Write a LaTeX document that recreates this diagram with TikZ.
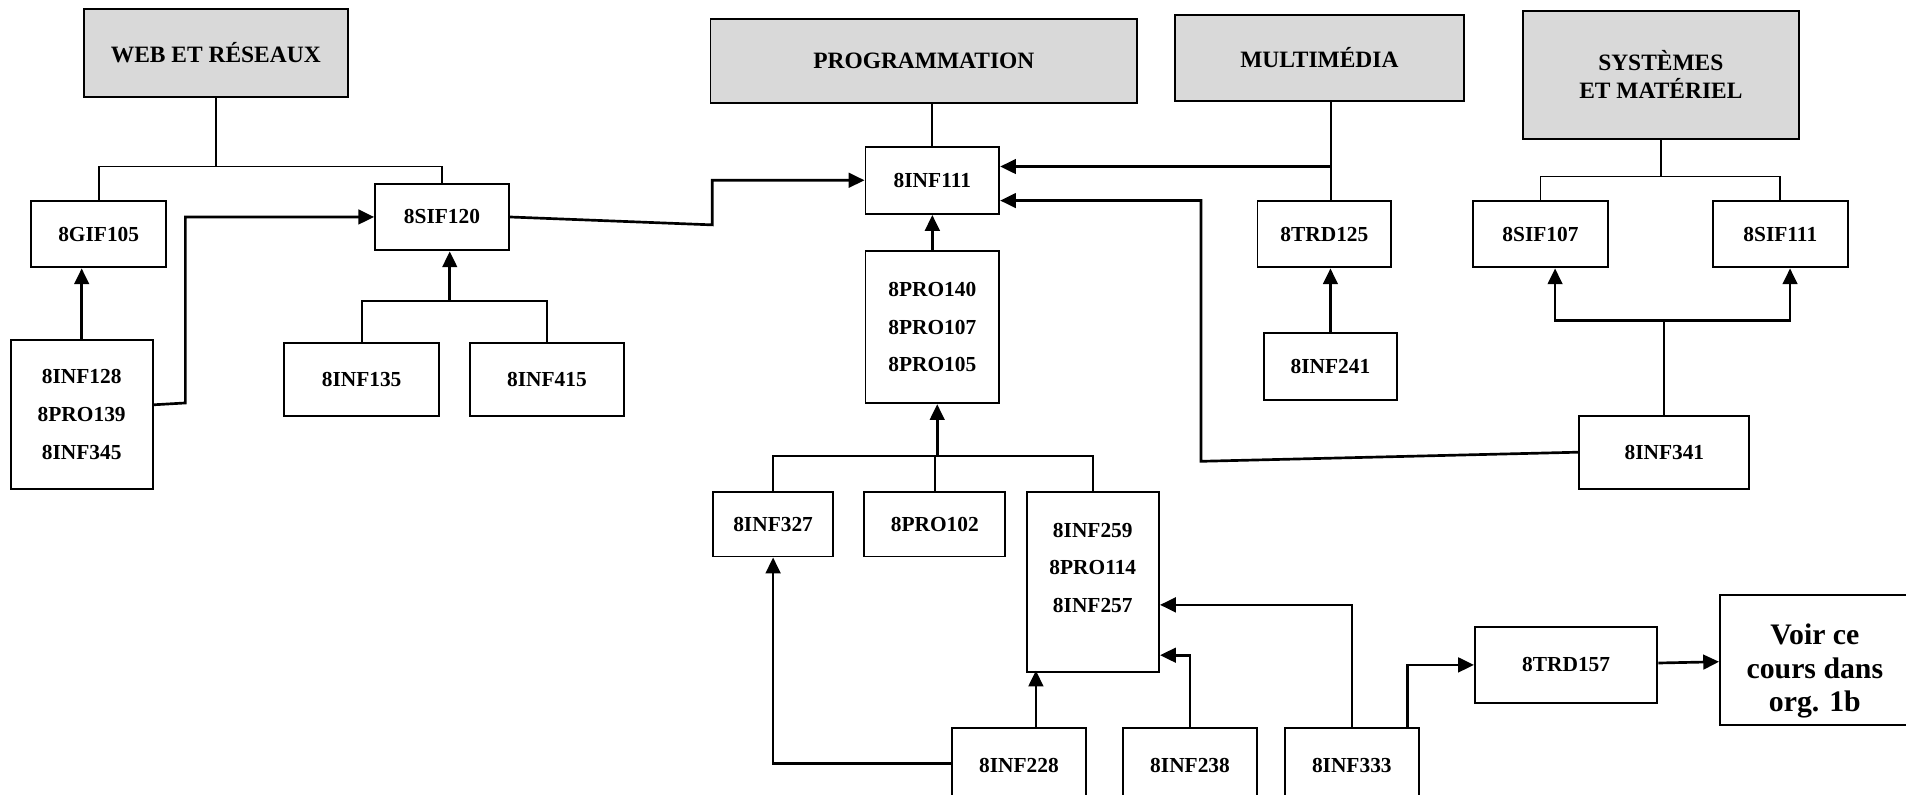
\documentclass[tikz,border=0pt]{standalone}
\usepackage{fontspec}
\setmainfont{Liberation Serif}
\usetikzlibrary{arrows.meta}
\definecolor{headgray}{HTML}{D9D9D9}

\begin{document}
\begin{tikzpicture}[x=1pt, y=-1pt,
    course/.style ={draw, line width=1.6pt, align=center, inner sep=0pt,
                    minimum width=110pt, minimum height=55pt,
                    font=\bfseries\fontsize{17.6}{31}\selectfont},
    area/.style ={course, fill=headgray, font=\bfseries\fontsize{19.3}{23}\selectfont},
    link/.style ={line width=1.5pt},
    prereq/.style ={line width=2.2pt, -{Triangle[length=13pt,width=12pt]}}]
   \useasboundingbox (0,0) rectangle (1568,653.2);
   % domaines
   \node[area, minimum width=217pt, minimum height=72pt] (web) at (177.5,43.5) {WEB ET RÉSEAUX};
   \node[area, minimum width=351pt, minimum height=69.4pt] (prog) at (760,50.3) {PROGRAMMATION};
   \node[area, minimum width=237.3pt, minimum height=70.7pt] (multi) at (1085.4,47.7) {MULTIMÉDIA};
   \node[area, minimum width=227pt, minimum height=105pt] (sys) at (1366.3,61.6) {SYSTÈMES\\ET MATÉRIEL};
   % cours
   \node[course, minimum width=111pt] (gif105) at (81.2,192.5) {8GIF105};
   \node[course] (sif120) at (363.6,178.5) {8SIF120};
   \node[course, minimum width=117pt, minimum height=122pt] (inf128) at (67.2,341) {8INF128\\8PRO139\\8INF345};
   \node[course, minimum width=127pt, minimum height=60pt] (inf135) at (297.5,312) {8INF135};
   \node[course, minimum width=126pt, minimum height=60pt] (inf415) at (450,312) {8INF415};
   \node[course, minimum height=55.5pt] (inf111) at (767,148.3) {8INF111};
   \node[course, minimum height=125pt] (pro140) at (767,269.2) {8PRO140\\8PRO107\\8PRO105};
   \node[course] (trd125) at (1089.5,192.5) {8TRD125};
   \node[course] (inf241) at (1094.5,301.5) {8INF241};
   \node[course, minimum width=111pt] (sif107) at (1267.3,192.5) {8SIF107};
   \node[course, minimum width=110.6pt] (sif111) at (1464.6,192.5) {8SIF111};
   \node[course, minimum width=140pt, minimum height=60pt] (inf341) at (1369.2,372) {8INF341};
   \node[course, minimum width=99pt, minimum height=53pt] (inf327) at (636,431.3) {8INF327};
   \node[course, minimum width=115.7pt, minimum height=53pt] (pro102) at (769,431.3) {8PRO102};
   \node[course, minimum width=109pt, minimum height=148pt] (inf259) at (899,478.5) {};
   \node[align=center, inner sep=0pt, font=\bfseries\fontsize{17.6}{31}\selectfont] (inf259txt) at (899,467) {8INF259\\8PRO114\\8INF257};
   \node[course, minimum height=62pt] (inf228) at (838.2,630) {8INF228};
   \node[course, minimum height=62pt] (inf238) at (979,630) {8INF238};
   \node[course, minimum height=62pt] (inf333) at (1112.1,630) {8INF333};
   \node[course, minimum width=150pt, minimum height=63pt] (trd157) at (1288.4,547) {8TRD157};
   \node[course, minimum width=156pt, minimum height=107pt] (voir) at (1493,542.75) {};
   \node[align=center, inner sep=0pt, font=\bfseries\fontsize{24.5}{27.5}\selectfont] (voirtxt) at (1493,552) {Voir ce\\cours dans\\org. 1b};
   % web et réseaux
   \draw[link] (web) -- (web |- 0,137) coordinate (webfork);
   \draw[link] (gif105) |- (webfork) -| (sif120);
   \draw[prereq] (inf128) -- (inf128 |- gif105.south);
   \draw[prereq] ([yshift=8pt]inf128.east) -- ++(26,-1.5) |- (sif120);
   \coordinate (sifjoin) at (370,247.7);
   \draw[link] (inf135) |- (sifjoin) -| (inf415);
   \draw[prereq] (sifjoin) -- (sifjoin |- sif120.south);
   % programmation
   \draw[prereq] (sif120.east) -- (586,185) |- (inf111);
   \draw[link] (inf111) -- (inf111 |- prog.south);
   \draw[prereq] (pro140) -- (inf111);
   \coordinate (projoin) at (771,375.3);
   \draw[link] (inf327) |- (projoin) -| (inf259);
   \draw[link] (pro102) -- (pro102 |- projoin);
   \draw[prereq] (projoin) -- (projoin |- pro140.south);
   % multimedia
   \coordinate (multijoin) at (1095,137);
   \draw[link] (multijoin |- multi.south) -- (multijoin |- trd125.north);
   \draw[prereq] (multijoin) -- (inf111.east |- multijoin);
   \draw[prereq] (inf241) -- (inf241 |- trd125.south);
   \draw[prereq] (inf341.west) -- (988,379.5) |- (inf111.east |- 0,165);
   % systemes et materiel
   \draw[link] (sys) -- (sys |- 0,145.2) coordinate (sysfork);
   \draw[link] (sif107) |- (sysfork) -| (sif111);
   \coordinate (sysjoin) at (1369.2,263.8);
   \draw[link] (inf341) -- (sysjoin);
   \draw[prereq] (sysjoin) -| ([xshift=12pt]sif107.south);
   \draw[prereq] (sysjoin) -| ([xshift=8pt]sif111.south);
   % bas
   \draw[prereq] ([xshift=14pt]inf228.north) -- ++(0,-46.6);
   \draw[prereq] ([yshift=2pt]inf228.west) -| (inf327);
   \draw[prereq] (inf238) |- (inf259.east |- 0,539);
   \draw[prereq] (inf333) |- (inf259.east |- 0,497.6);
   \draw[prereq] ([xshift=46pt]inf333.north) |- (trd157);
   \draw[prereq] (trd157) -- (voir);
 \end{tikzpicture}
\end{document}
